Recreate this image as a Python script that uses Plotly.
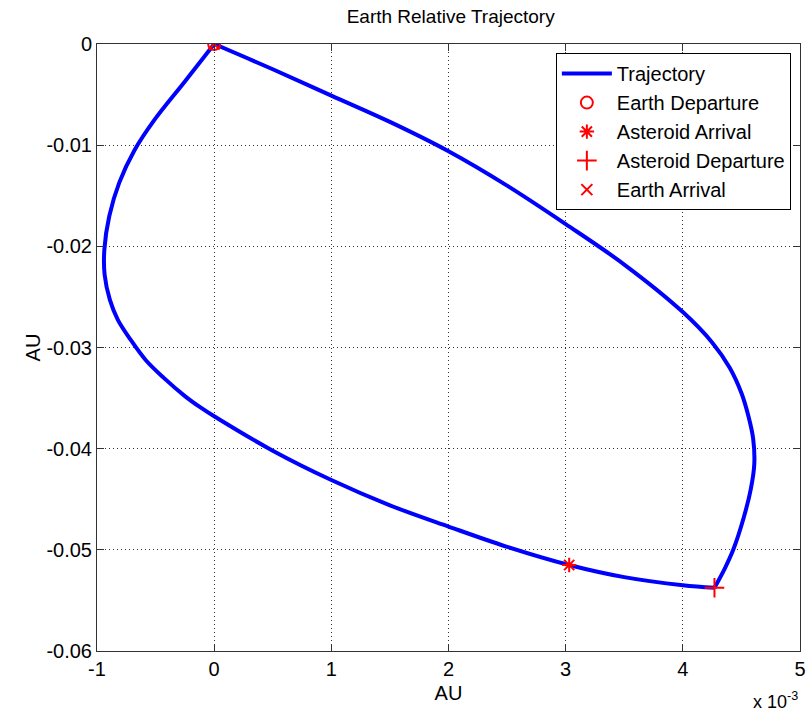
import plotly.graph_objects as go

# Trajectory (x in units of 1e-3 AU, y in AU)
# Leg 1: Earth departure -> asteroid departure (via left loop and lower arc)
leg1_x = [0.0, -0.25, -0.51, -0.68, -0.81, -0.895, -0.937, -0.935, -0.89, -0.822, -0.712, -0.585, -0.43, -0.25, -0.12, 0.0,
          0.5, 1.0, 1.5, 2.0, 2.5, 3.03, 3.5, 4.0, 4.27]
leg1_y = [0.0, -0.0037, -0.0075, -0.0105, -0.0137, -0.0170, -0.0203, -0.0228, -0.0253, -0.02727, -0.02925, -0.03123, -0.0330, -0.0348, -0.0359, -0.0368,
          -0.0402, -0.0431, -0.0456, -0.0477, -0.0497, -0.0515, -0.0527, -0.0535, -0.05375]
# Leg 2: asteroid departure -> Earth arrival (right arc and upper arc)
leg2_x = [4.27, 4.36, 4.43, 4.52, 4.58, 4.61, 4.60, 4.56, 4.50, 4.40, 4.25, 4.0, 3.5, 3.0, 2.5, 2.0, 1.5, 1.0, 0.5, 0.0]
leg2_y = [-0.05375, -0.0518, -0.0500, -0.0468, -0.0440, -0.0415, -0.0390, -0.0368, -0.0345, -0.0320, -0.0295, -0.0265,
          -0.0218, -0.0178, -0.0140, -0.0106, -0.0077, -0.0051, -0.0025, 0.0]

earth_dep = (0.0, 0.0)
ast_arr = (3.03, -0.0515)
ast_dep = (4.27, -0.05375)
earth_arr = (0.0, 0.0)

x_ticks = [-1, 0, 1, 2, 3, 4, 5]
y_ticks = [0, -0.01, -0.02, -0.03, -0.04, -0.05, -0.06]
y_ticktext = ["0", "-0.01", "-0.02", "-0.03", "-0.04", "-0.05", "-0.06"]

FONT = "Liberation Sans, Arial, sans-serif"

traj_x = leg1_x + [None] + leg2_x
traj_y = leg1_y + [None] + leg2_y

fig = go.Figure()
fig.add_trace(go.Scatter(x=traj_x, y=traj_y, mode="lines", name="Trajectory", connectgaps=False,
                         line=dict(color="#0000FF", width=4, shape="spline", smoothing=1.0)))
fig.add_trace(go.Scatter(x=[earth_dep[0]], y=[earth_dep[1]], mode="markers", name="Earth Departure",
                         marker=dict(symbol="circle-open", size=12, color="#FF0000", line=dict(width=2, color="#FF0000"))))
fig.add_trace(go.Scatter(x=[ast_arr[0]], y=[ast_arr[1]], mode="markers", name="Asteroid Arrival",
                         marker=dict(symbol="asterisk-open", size=12, color="#FF0000", line=dict(width=2, color="#FF0000"))))
fig.add_trace(go.Scatter(x=[ast_dep[0]], y=[ast_dep[1]], mode="markers", name="Asteroid Departure",
                         marker=dict(symbol="cross-thin-open", size=14, color="#FF0000", line=dict(width=2, color="#FF0000"))))
fig.add_trace(go.Scatter(x=[earth_arr[0]], y=[earth_arr[1]], mode="markers", name="Earth Arrival",
                         marker=dict(symbol="x-thin-open", size=11, color="#FF0000", line=dict(width=2, color="#FF0000"))))

axis_common = dict(showline=True, linecolor="#333333", linewidth=1, mirror="ticks",
                   ticks="inside", ticklen=7, tickcolor="#333333",
                   showgrid=True, gridcolor="#333333", griddash="1px,3px", gridwidth=1,
                   zeroline=False, tickfont=dict(family=FONT, size=20, color="black"))

fig.update_xaxes(range=[-1, 5], tickvals=x_ticks, ticktext=[str(v) for v in x_ticks],
                 title=dict(text="AU", font=dict(family=FONT, size=20, color="black"), standoff=6),
                 **axis_common)
fig.update_yaxes(range=[-0.06, 0], tickvals=y_ticks, ticktext=y_ticktext,
                 title=dict(text="AU", font=dict(family=FONT, size=20, color="black"), standoff=0),
                 **axis_common)

fig.add_annotation(text="x 10<sup>-3</sup>", xref="paper", yref="paper", x=1.0, y=0, xanchor="right",
                   yanchor="top", yshift=-36, showarrow=False, font=dict(family=FONT, size=18, color="black"))

fig.update_layout(
    width=812, height=717,
    margin=dict(l=97, r=6, t=44, b=66),
    paper_bgcolor="white", plot_bgcolor="white",
    title=dict(text="Earth Relative Trajectory", x=0.555, xanchor="center", y=0.977, yanchor="middle",
               font=dict(family=FONT, size=19, color="black")),
    legend=dict(x=0.987, y=0.985, xanchor="right", yanchor="top", bgcolor="white",
                bordercolor="black", borderwidth=1, font=dict(family=FONT, size=20, color="black"),
                itemwidth=50),
    showlegend=True,
)

fig.write_html("out.html")
